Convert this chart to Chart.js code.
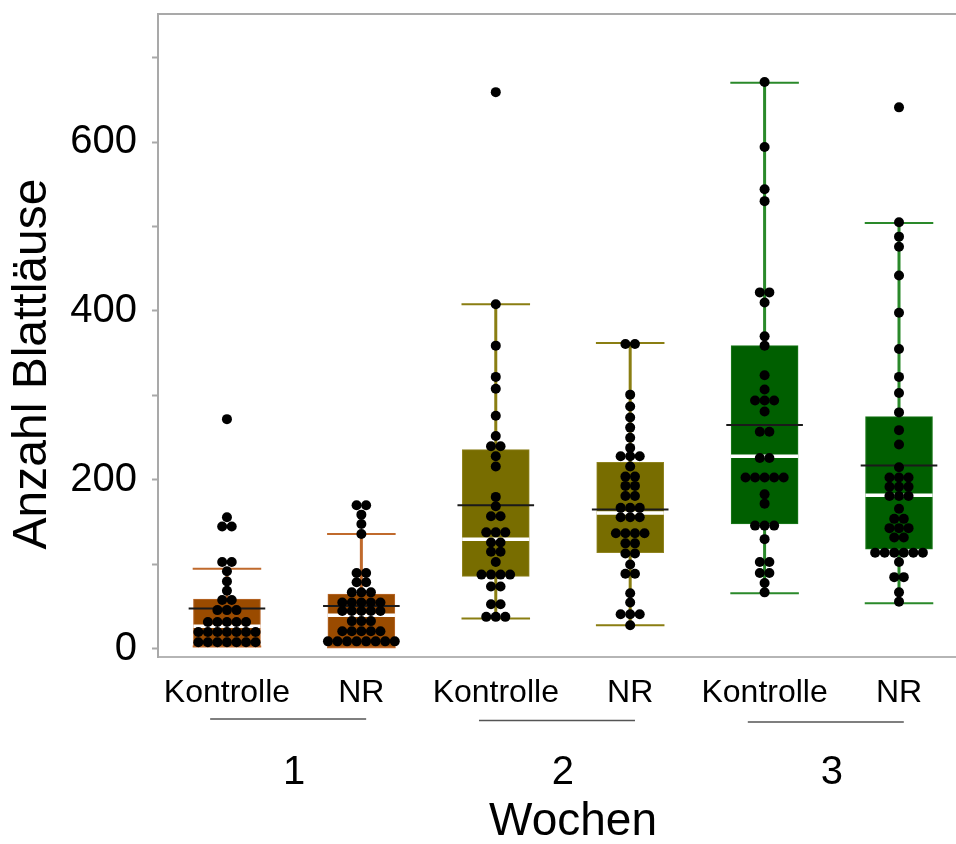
<!DOCTYPE html>
<html>
<head>
<meta charset="utf-8">
<title>Anzahl Blattläuse</title>
<script src="https://cdn.jsdelivr.net/npm/chart.js@4.4.1/dist/chart.umd.min.js"></script>
<style>
  html, body { margin: 0; padding: 0; background: #fff; }
  canvas { display: block; }
</style>
</head>
<body>
<canvas id="aphidChart" width="956" height="844"></canvas>
<script>
// treatments per week, in drawing order
const groupLabels = ['Kontrolle', 'NR', 'Kontrolle', 'NR', 'Kontrolle', 'NR'];
const weekLabels = ['1', '2', '3'];
const yTicks = [0, 100, 200, 300, 400, 500, 600, 700];

// box statistics per group
const whiskerLow  = [3, 2, 36, 28, 66, 54];
const quart1      = [3, 2, 86, 114, 148, 118];
const medians     = [27, 40, 130, 161, 228, 182];
const means       = [48, 51, 170, 165, 265, 217];
const quart3      = [59, 65, 236, 221, 359, 275];
const whiskerHigh = [95, 136, 408, 362, 670, 504];

// aphid counts per plant (equal values sit in one row of the swarm)
const w1Kontrolle = [272, 156, 145, 145, 103, 103, 92, 80, 69, 58, 58, 46, 46, 46,
  32, 32, 32, 32, 32, 20, 20, 20, 20, 20, 20, 20, 8, 8, 8, 8, 8, 8, 8];
const w1NR = [170, 170, 159, 148, 136, 90, 90, 79, 79, 67, 67, 67, 55, 55, 55, 55, 55,
  45, 45, 45, 45, 45, 33, 33, 33, 21, 21, 21, 21, 21, 9, 9, 9, 9, 9, 9, 9, 9];
const w2Kontrolle = [659, 408, 359, 322, 308, 276, 252, 240, 240, 228, 216, 180, 169,
  157, 157, 138, 138, 138, 126, 126, 115, 115, 103, 88, 88, 88, 88, 74, 74, 53, 53, 38, 38, 38];
const w2NR = [361, 361, 301, 287, 274, 262, 250, 238, 228, 228, 228, 216, 204, 204,
  193, 193, 181, 181, 167, 167, 167, 156, 156, 156, 137, 137, 137, 137, 125, 125,
  113, 113, 100, 89, 89, 66, 55, 41, 41, 41, 28];
const w3Kontrolle = [671, 594, 544, 530, 422, 422, 410, 370, 359, 324, 307, 294, 294, 294,
  281, 257, 257, 226, 226, 203, 203, 203, 203, 203, 183, 172, 146, 146, 146, 130,
  103, 103, 90, 90, 78, 67];
const w3NR = [641, 505, 488, 476, 442, 398, 355, 322, 303, 280, 259, 242, 215, 203, 203, 203,
  192, 192, 192, 181, 181, 181, 166, 154, 154, 143, 143, 143, 132, 132,
  114, 114, 114, 114, 114, 114, 103, 85, 85, 67, 56];

const groupCounts = [w1Kontrolle, w1NR, w2Kontrolle, w2NR, w3Kontrolle, w3NR];

const boxColors = ['#9a4b00', '#786d00', '#005f00'];
const boxEdges = ['#b8672a', '#8f8320', '#1d7a1d'];
const whiskerColors = ['#c06a2c', '#8a7e12', '#2a892a'];

const FONT = "'Liberation Sans', Arial, sans-serif";
const boxHalf = 0.25;   // half box width in x units
const capHalf = 0.255;
const meanHalf = 0.285;
const dotStep = 0.071;  // spacing of dots side by side

// lay dots of equal value side by side, centred on the group
function beeswarm(values, center) {
  const rowSize = {};
  values.forEach(v => { rowSize[v] = (rowSize[v] || 0) + 1; });
  const rowPos = {};
  return values.map(v => {
    rowPos[v] = rowPos[v] === undefined ? 0 : rowPos[v] + 1;
    return { x: center + (rowPos[v] - (rowSize[v] - 1) / 2) * dotStep, y: v };
  });
}

function hSegments(values, half) {
  const pts = [];
  values.forEach((v, i) => {
    pts.push({ x: i - half, y: v }, { x: i + half, y: v }, { x: i, y: null });
  });
  return pts;
}

const dots = [];
groupCounts.forEach((vals, i) => dots.push(...beeswarm(vals, i)));

const whiskerSets = [];
weekLabels.forEach((wk, w) => {
  const stems = [], caps = [];
  [2 * w, 2 * w + 1].forEach(i => {
    stems.push({ x: i, y: whiskerLow[i] }, { x: i, y: whiskerHigh[i] }, { x: i, y: null });
    caps.push({ x: i - capHalf, y: whiskerHigh[i] }, { x: i + capHalf, y: whiskerHigh[i] }, { x: i, y: null },
              { x: i - capHalf, y: whiskerLow[i] }, { x: i + capHalf, y: whiskerLow[i] }, { x: i, y: null });
  });
  whiskerSets.push({ type: 'line', data: stems, borderColor: whiskerColors[w], borderWidth: 3,
                     pointRadius: 0, order: 5 });
  whiskerSets.push({ type: 'line', data: caps, borderColor: whiskerColors[w], borderWidth: 2,
                     pointRadius: 0, order: 4 });
});

// frame top line, axis titles and the week brackets
const decorations = {
  id: 'decorations',
  afterDraw(chart) {
    const { ctx, chartArea, scales } = chart;
    ctx.save();
    ctx.strokeStyle = '#a9a9a9';
    ctx.lineWidth = 2;
    ctx.beginPath();
    ctx.moveTo(chartArea.left - 1, chartArea.top);
    ctx.lineTo(chartArea.right, chartArea.top);
    ctx.stroke();

    ctx.strokeStyle = '#555';
    ctx.lineWidth = 1.5;
    weekLabels.forEach((wk, w) => {
      const cx = scales.x.getPixelForValue(2 * w + 0.5) - 6;
      const y = scales.x.bottom - 18 + w * 1.5;
      ctx.beginPath();
      ctx.moveTo(cx - 78, y);
      ctx.lineTo(cx + 78, y);
      ctx.stroke();
    });

    ctx.fillStyle = '#000';
    ctx.textAlign = 'center';
    ctx.textBaseline = 'middle';
    ctx.font = '46px ' + FONT;
    ctx.fillText('Wochen', 573, 822);

    ctx.translate(33, 364);
    ctx.rotate(-Math.PI / 2);
    ctx.font = '48px ' + FONT;
    ctx.fillText('Anzahl Blattläuse', 0, 0);
    ctx.restore();
  }
};

function noPadding(scale) {
  scale.paddingTop = 0;
  scale.paddingBottom = 0;
  scale.paddingLeft = 0;
  scale.paddingRight = 0;
}

new Chart(document.getElementById('aphidChart'), {
  type: 'bar',
  data: {
    datasets: [
      {
        type: 'scatter',
        data: dots,
        backgroundColor: '#000',
        borderWidth: 0,
        pointRadius: 5,
        order: 0
      },
      {
        type: 'line',
        data: hSegments(means, meanHalf),
        borderColor: '#1a1a1a',
        borderWidth: 2,
        pointRadius: 0,
        order: 1
      },
      {
        type: 'line',
        data: hSegments(medians, boxHalf),
        borderColor: '#ffffff',
        borderWidth: 3.5,
        pointRadius: 0,
        order: 2
      },
      {
        type: 'bar',
        data: groupLabels.map((g, i) => ({ x: i, y: [quart1[i], quart3[i]] })),
        backgroundColor: groupLabels.map((g, i) => boxColors[Math.floor(i / 2)]),
        borderColor: groupLabels.map((g, i) => boxEdges[Math.floor(i / 2)]),
        borderWidth: 1,
        borderSkipped: false,
        barThickness: 67,
        order: 3
      },
      ...whiskerSets
    ]
  },
  options: {
    responsive: false,
    animation: false,
    devicePixelRatio: 1,
    events: [],
    layout: { autoPadding: false, padding: { top: 14, left: 0, right: 0, bottom: 0 } },
    plugins: { legend: { display: false }, tooltip: { enabled: false } },
    scales: {
      x: {
        type: 'linear',
        position: 'bottom',
        offset: false,
        weight: 0,
        min: -0.513,
        max: 5.424,
        afterBuildTicks: s => { s.ticks = groupLabels.map((g, i) => ({ value: i })); },
        afterFit: s => { s.height = 80; noPadding(s); },
        ticks: {
          autoSkip: false,
          maxRotation: 0,
          padding: 9,
          color: '#000',
          font: { family: FONT, size: 32 },
          callback: (v, i) => groupLabels[i]
        },
        grid: { display: false, offset: false },
        border: { display: true, color: '#b5b5b5', width: 2 }
      },
      x2: {
        type: 'linear',
        position: 'bottom',
        offset: false,
        weight: 1,
        min: -0.513,
        max: 5.424,
        afterBuildTicks: s => { s.ticks = weekLabels.map((w, i) => ({ value: 2 * i + 0.5 })); },
        afterFit: s => { s.height = 107; noPadding(s); },
        ticks: {
          autoSkip: false,
          maxRotation: 0,
          padding: 4,
          color: '#000',
          font: { family: FONT, size: 40 },
          callback: (v, i) => weekLabels[i]
        },
        grid: { display: false, offset: false },
        border: { display: false }
      },
      y: {
        type: 'linear',
        min: -9.5,
        max: 751.5,
        afterBuildTicks: s => { s.ticks = yTicks.map(v => ({ value: v })); },
        afterFit: s => { s.width = 158; noPadding(s); },
        ticks: {
          padding: 15,
          color: '#000',
          font: { family: FONT, size: 40 },
          callback: v => (v % 200 === 0 ? String(v) : '')
        },
        grid: { drawOnChartArea: false, drawTicks: true, tickLength: 6, tickWidth: 2, color: '#a9a9a9' },
        border: { display: true, color: '#a9a9a9', width: 2 }
      }
    }
  },
  plugins: [decorations]
});
</script>
</body>
</html>
